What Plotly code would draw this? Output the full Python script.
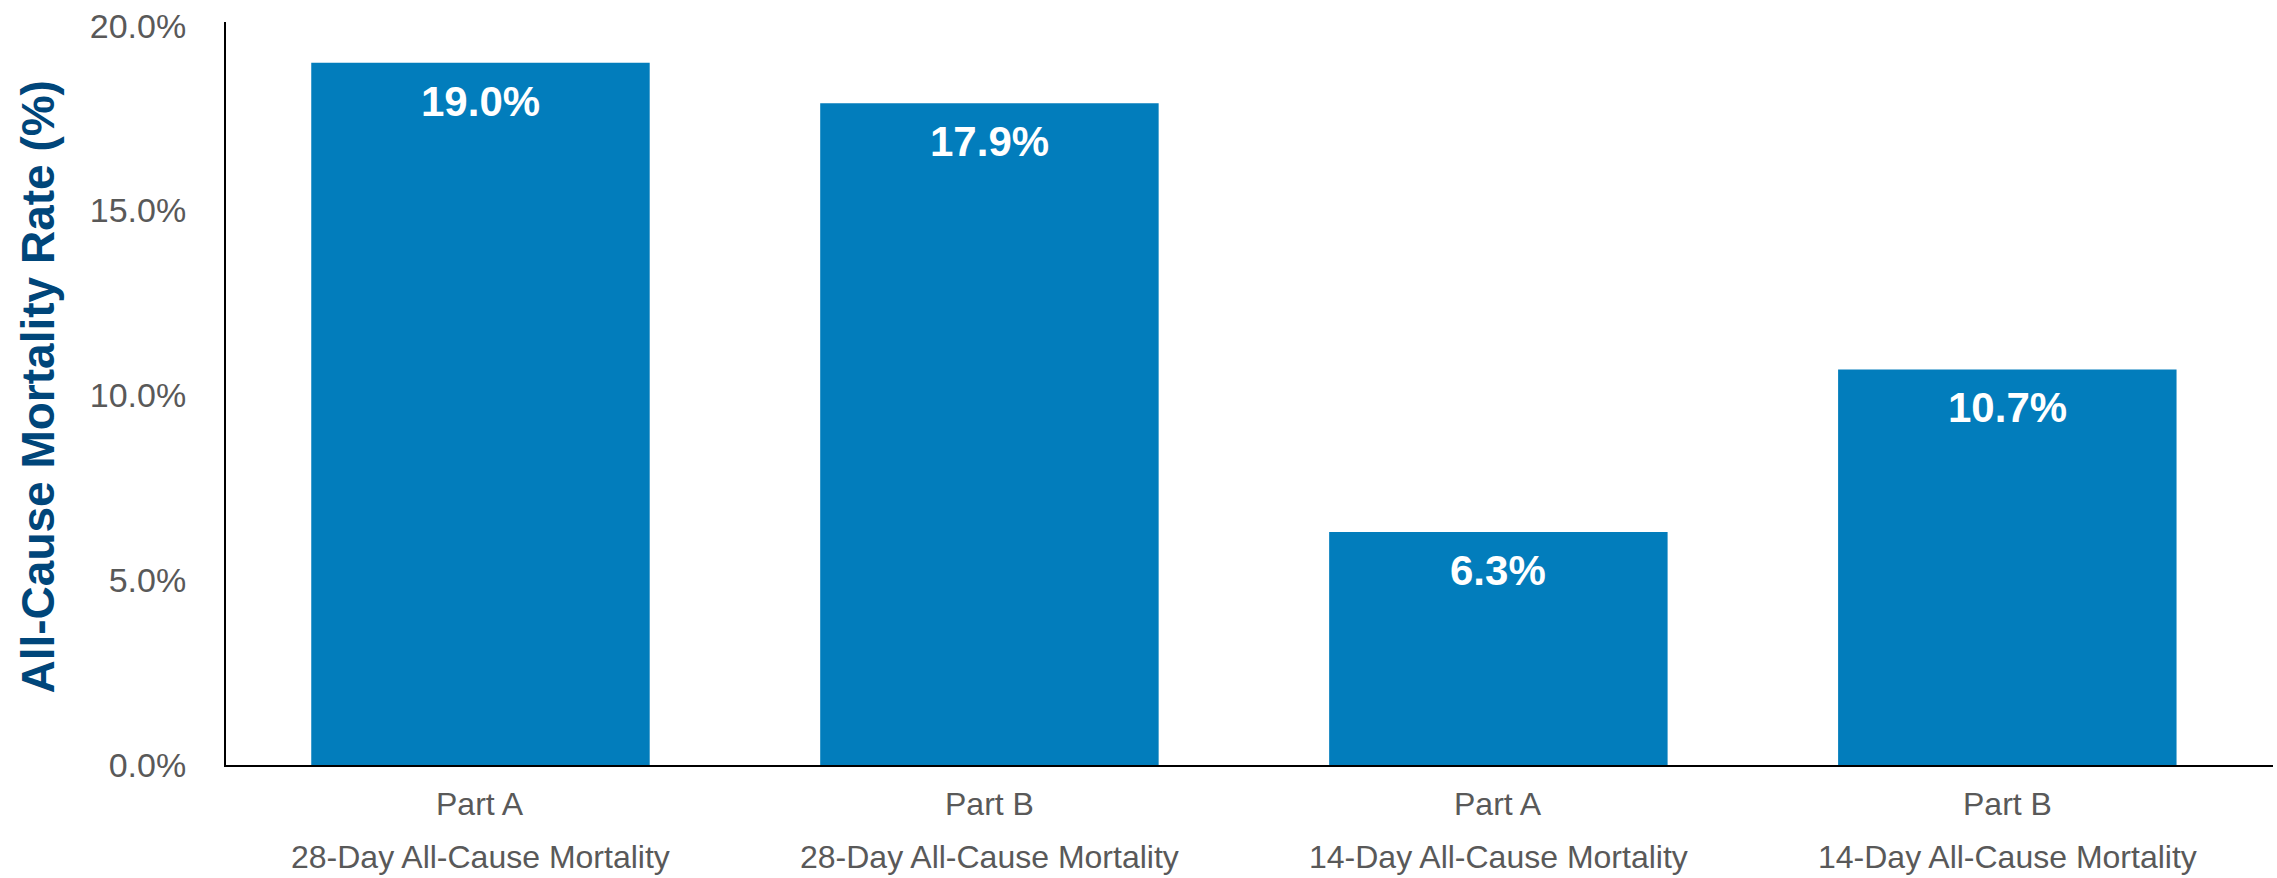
import plotly.graph_objects as go

# ---- data ----
parts = ["Part A", "Part B", "Part A", "Part B"]
measures = ["28-Day All-Cause Mortality", "28-Day All-Cause Mortality",
            "14-Day All-Cause Mortality", "14-Day All-Cause Mortality"]
rates = [19.0, 17.9, 6.3, 10.7]
y_tick_vals = [0, 5, 10, 15, 20]
y_tick_text = ["0.0%", "5.0%", "10.0%", "15.0%", "20.0%"]
y_title = "All-Cause Mortality Rate (%)"

FONT = "Liberation Sans, Arial, Helvetica, sans-serif"
BAR = "#027DBC"
TITLE_C = "#00467A"
GREY = "#595959"

x_idx = list(range(len(rates)))

fig = go.Figure()
fig.add_trace(go.Bar(
    x=x_idx, y=rates, width=0.665,
    marker=dict(color=BAR, line=dict(width=0)),
    hoverinfo="skip",
))

annotations = []
for i, v in zip(x_idx, rates):
    annotations.append(dict(
        x=i, y=v, xref="x", yref="y", text=f"<b>{v:.1f}%</b>",
        showarrow=False, yanchor="top", xanchor="center", yshift=-13,
        font=dict(family=FONT, size=42, color="white"),
    ))
for i, (p, m) in enumerate(zip(parts, measures)):
    annotations.append(dict(
        x=i, y=0, xref="x", yref="y", text=p, showarrow=False,
        yanchor="top", xanchor="center", yshift=-19,
        font=dict(family=FONT, size=32, color=GREY),
    ))
    annotations.append(dict(
        x=i, y=0, xref="x", yref="y", text=m, showarrow=False,
        yanchor="top", xanchor="center", yshift=-72,
        font=dict(family=FONT, size=32, color=GREY),
    ))
annotations.append(dict(
    x=0, y=0.5, xref="paper", yref="paper", text=f"<b>{y_title}</b>",
    textangle=-90, showarrow=False, xanchor="center", yanchor="middle",
    xshift=-189, yshift=6,
    font=dict(family=FONT, size=46, color=TITLE_C),
))

fig.update_layout(
    width=2277, height=878,
    margin=dict(l=226, r=4, t=22, b=113),
    paper_bgcolor="white", plot_bgcolor="white",
    showlegend=False,
    annotations=annotations,
    xaxis=dict(
        range=[-0.5, 3.522], showticklabels=False, ticks="",
        showgrid=False, zeroline=False,
        showline=True, linecolor="black", linewidth=2,
        fixedrange=True,
    ),
    yaxis=dict(
        range=[0, 20.1], tickvals=y_tick_vals, ticktext=y_tick_text,
        tickfont=dict(family=FONT, size=34, color=GREY),
        ticks="", ticklabelstandoff=31,
        showgrid=False, zeroline=False,
        showline=True, linecolor="black", linewidth=2,
        fixedrange=True,
    ),
)

fig.write_html("out.html")
